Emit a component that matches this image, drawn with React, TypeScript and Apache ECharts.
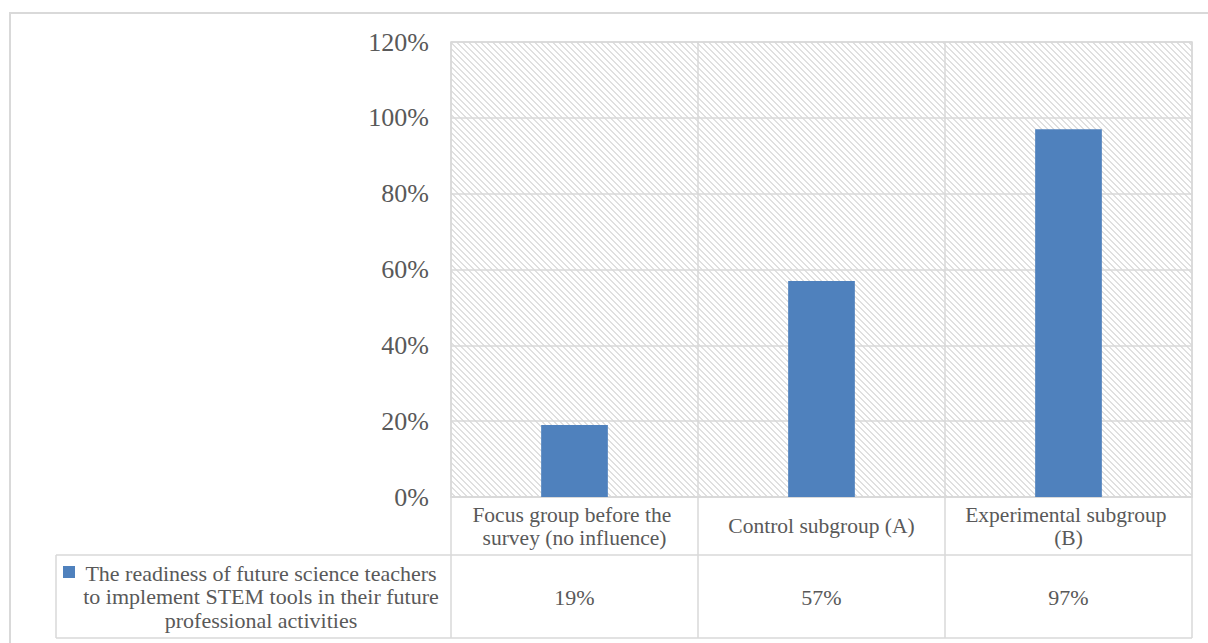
import React, { useEffect, useRef } from "react";
import * as echarts from "echarts";

// Chart data
const categories = [
  "Focus group before the survey (no influence)",
  "Control subgroup (A)",
  "Experimental subgroup (B)",
];
const readiness = [19, 57, 97];
const seriesName =
  "The readiness of future science teachers to implement STEM tools in their future professional activities";
const seriesNameLines = [
  "The readiness of future science teachers",
  "to implement STEM tools in their future",
  "professional activities",
];
const yMin = 0;
const yMax = 120;
const yStep = 20;

// Layout
const W = 1208;
const H = 643;
const GRID = { left: 451, top: 42, width: 741, height: 455 };
const HEADER_BOTTOM = 555;
const TABLE_BOTTOM = 638;
const TABLE_LEFT = 56;

const FONT = "'Liberation Serif', 'Times New Roman', serif";
const TEXT = "#595959";
const RULE = "#d9d9d9";
const BAR = "#4F81BD";

// Light downward-diagonal hatch used for the plot background
function makeHatch(): string {
  const size = 6;
  const c = document.createElement("canvas");
  c.width = size;
  c.height = size;
  const ctx = c.getContext("2d")!;
  ctx.fillStyle = "#ffffff";
  ctx.fillRect(0, 0, size, size);
  ctx.fillStyle = "#e0e0e0";
  for (let y = 0; y < size; y++) {
    for (let x = 0; x < size; x++) {
      if ((((x - y) % size) + size) % size < 2) ctx.fillRect(x, y, 1, 1);
    }
  }
  return c.toDataURL();
}

export default function App() {
  const ref = useRef<HTMLDivElement>(null);

  useEffect(() => {
    document.body.style.margin = "0";
    if (!ref.current) return;
    const chart = echarts.init(ref.current, undefined, { renderer: "svg" });

    const gridBottom = GRID.top + GRID.height;
    const gridRight = GRID.left + GRID.width;
    const colW = GRID.width / categories.length;

    const tableLines: any[] = [];
    const hLine = (x1: number, x2: number, y: number) =>
      tableLines.push({
        type: "line",
        z: 5,
        shape: { x1, y1: y, x2, y2: y },
        style: { stroke: RULE, lineWidth: 1.5 },
      });
    const vLine = (x: number, y1: number, y2: number) =>
      tableLines.push({
        type: "line",
        z: 5,
        shape: { x1: x, y1, x2: x, y2 },
        style: { stroke: RULE, lineWidth: 1.5 },
      });
    hLine(TABLE_LEFT, gridRight, HEADER_BOTTOM);
    hLine(TABLE_LEFT, gridRight, TABLE_BOTTOM);
    vLine(TABLE_LEFT, HEADER_BOTTOM, TABLE_BOTTOM);
    for (let i = 0; i <= categories.length; i++) {
      vLine(GRID.left + i * colW, gridBottom, TABLE_BOTTOM);
    }

    const option: any = {
      animation: false,
      backgroundColor: "#ffffff",
      grid: {
        left: GRID.left,
        top: GRID.top,
        width: GRID.width,
        height: GRID.height,
        show: true,
        borderColor: RULE,
        borderWidth: 1.5,
        backgroundColor: "transparent",
      },
      xAxis: [
        {
          type: "category",
          data: categories,
          axisLine: { show: true, lineStyle: { color: RULE, width: 1.5 } },
          axisTick: { show: false },
          splitLine: { show: true, interval: 0, lineStyle: { color: RULE, width: 1.5 } },
          axisLabel: {
            interval: 0,
            margin: 29,
            verticalAlign: "middle",
            width: 232,
            overflow: "break",
            lineHeight: 23,
            fontSize: 21.5,
            fontFamily: FONT,
            color: TEXT,
          },
        },
        {
          type: "category",
          data: categories,
          position: "bottom",
          offset: 100,
          axisLine: { show: false },
          axisTick: { show: false },
          splitLine: { show: false },
          axisLabel: {
            interval: 0,
            margin: 0,
            verticalAlign: "middle",
            fontSize: 22,
            fontFamily: FONT,
            color: TEXT,
            formatter: (_v: string, i: number) => `${readiness[i]}%`,
          },
        },
      ],
      yAxis: {
        type: "value",
        min: yMin,
        max: yMax,
        interval: yStep,
        axisLine: { show: false },
        axisTick: { show: false },
        splitLine: { show: true, lineStyle: { color: RULE, width: 1.5 } },
        axisLabel: {
          margin: 22,
          fontSize: 26,
          fontFamily: FONT,
          color: TEXT,
          formatter: "{value}%",
        },
      },
      series: [
        {
          name: seriesName,
          type: "bar",
          data: readiness,
          barWidth: "27%",
          itemStyle: { color: BAR },
          z: 3,
        },
      ],
      graphic: [
        {
          type: "rect",
          z: -10,
          silent: true,
          shape: { x: GRID.left, y: GRID.top, width: GRID.width, height: GRID.height },
          style: {
            fill: {
              type: "pattern",
              image: makeHatch(),
              repeat: "repeat",
              imageWidth: 6,
              imageHeight: 6,
            },
          },
        },
        {
          type: "rect",
          z: 10,
          silent: true,
          shape: { x: 10, y: 13, width: W + 10, height: H + 10 },
          style: { fill: "none", stroke: RULE, lineWidth: 2 },
        },
        ...tableLines,
        {
          type: "rect",
          z: 6,
          shape: { x: 63, y: 566, width: 12, height: 12 },
          style: { fill: BAR },
        },
        {
          type: "text",
          z: 6,
          x: 261,
          y: (HEADER_BOTTOM + TABLE_BOTTOM) / 2,
          style: {
            text: seriesNameLines.join("\n"),
            fontSize: 22,
            fontFamily: FONT,
            fill: TEXT,
            lineHeight: 23.5,
            align: "center",
            verticalAlign: "middle",
          },
        },
      ],
    };

    chart.setOption(option);
    return () => chart.dispose();
  }, []);

  return <div ref={ref} style={{ width: W, height: H }} />;
}
